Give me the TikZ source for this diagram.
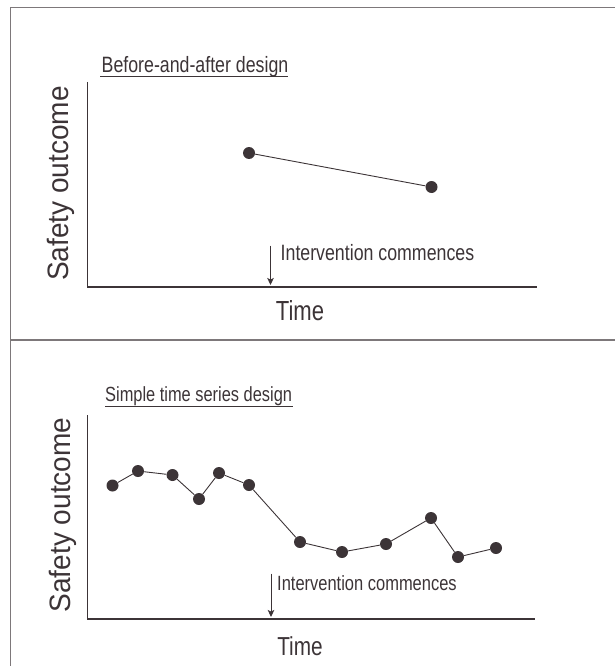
\documentclass[tikz,border=0pt]{standalone}
\usepackage{fontspec}
\setmainfont{Liberation Sans}
\newfontfamily\narrowfont[FakeStretch=0.8]{Liberation Sans}
\newfontfamily\midfont[FakeStretch=0.95]{Liberation Sans}
\usetikzlibrary{arrows.meta}
\definecolor{ink}{RGB}{60,52,55}
\definecolor{framegray}{RGB}{125,120,122}
\tikzset{
  frameline/.style={draw=framegray, line width=1.3pt},
  axisline/.style={draw=ink, line width=1.2pt},
  dataline/.style={draw=ink, line width=0.9pt},
  pt/.style={circle, fill=ink, inner sep=0pt, minimum size=12pt},
  ylab/.style={font=\midfont\fontsize{29.5}{30}\selectfont, text=ink, rotate=90, anchor=base, inner sep=0pt},
  titletext/.style={text=ink, anchor=base west, inner sep=0pt},
  timelab/.style={text=ink, anchor=base, inner sep=0pt},
  interv/.style={-{Stealth[length=7pt,width=6.5pt,inset=1.5pt]}, draw=ink, line width=1pt},
}
\begin{document}
\begin{tikzpicture}[x=1pt,y=-1pt]
\useasboundingbox (0,0) rectangle (615,666);
% frame
\draw[frameline] (615,7.5) -- (10.3,7.5) -- (10.3,666);
\draw[frameline] (10.3,340) -- (615,340);

% ---------- top panel ----------
\node[titletext, font=\narrowfont\fontsize{22.2}{24}\selectfont] (t1) at (101.5,73) {Before-and-after design};
\draw[draw=ink, line width=0.8pt] (100,76.5) -- (288,76.5);
\coordinate (y1top) at (87.5,82);
\coordinate (o1) at (87.5,287);
\coordinate (x1end) at (537,287);
\draw[axisline] (y1top) -- (o1) -- (x1end);
\node[ylab] (s1) at (68.5,183.5) {Safety outcome};
\node[timelab, font=\narrowfont\fontsize{27.6}{29}\selectfont] (time1) at (300,320) {Time};
\coordinate (a1s) at (270.5,245.5);
\coordinate (a1e) at (270.5,285);
\draw[interv] (a1s) -- (a1e);
\node[titletext, font=\narrowfont\fontsize{22.2}{24}\selectfont] (iv1) at (280.5,260.5) {Intervention commences};
\node[pt] (p1) at (249,153) {};
\node[pt] (p2) at (431.5,187) {};
\draw[dataline] (p1) -- (p2);

% ---------- bottom panel ----------
\node[titletext, font=\narrowfont\fontsize{20.5}{22}\selectfont] (t2) at (105,401.5) {Simple time series design};
\draw[draw=ink, line width=0.8pt] (105,406.5) -- (293,406.5);
\coordinate (y2top) at (87.5,415);
\coordinate (o2) at (87.5,619);
\coordinate (x2end) at (534.5,619);
\draw[axisline] (y2top) -- (o2) -- (x2end);
\node[ylab] (s2) at (70.5,515) {Safety outcome};
\node[timelab, font=\narrowfont\fontsize{26}{28}\selectfont] (time2) at (300,655) {Time};
\coordinate (a2s) at (271,573.5);
\coordinate (a2e) at (271,617);
\draw[interv] (a2s) -- (a2e);
\node[titletext, font=\narrowfont\fontsize{20.6}{22}\selectfont] (iv2) at (277,590.5) {Intervention commences};

\node[pt] (q1) at (112.5,485.5) {};
\node[pt] (q2) at (138,471) {};
\node[pt] (q3) at (172.5,475) {};
\node[pt] (q4) at (199,499) {};
\node[pt] (q5) at (219,473) {};
\node[pt] (q6) at (249,485) {};
\node[pt] (q7) at (300,542) {};
\node[pt] (q8) at (342,552) {};
\node[pt] (q9) at (386,544) {};
\node[pt] (q10) at (431,518) {};
\node[pt] (q11) at (458,557) {};
\node[pt] (q12) at (496,548) {};
\draw[dataline] (q1) -- (q2) -- (q3) -- (q4) -- (q5) -- (q6) -- (q7) -- (q8) -- (q9) -- (q10) -- (q11) -- (q12);
\end{tikzpicture}
\end{document}
